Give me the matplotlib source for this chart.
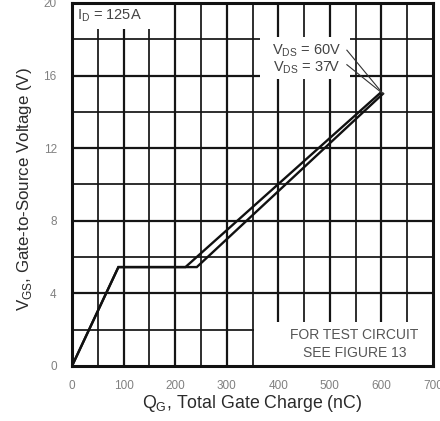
import matplotlib
matplotlib.use("Agg")
import matplotlib.pyplot as plt
from matplotlib.patches import Rectangle

plt.rcParams['font.family'] = ['Liberation Sans', 'DejaVu Sans']

# Gate charge curves (Q_G in nC, V_GS in V)
qg_37v = [0, 90, 220, 598]
vgs_37v = [0, 5.45, 5.45, 15.05]
qg_60v = [0, 90, 242, 603]
vgs_60v = [0, 5.45, 5.45, 15.0]

x_ticks = [0, 100, 200, 300, 400, 500, 600, 700]
y_ticks = [0, 4, 8, 12, 16, 20]

W, H = 440, 421
fig = plt.figure(figsize=(W / 100, H / 100), dpi=100)
ax = fig.add_axes([72 / W, 55 / H, 361 / W, 363 / H])
ax.set_xlim(0, 700)
ax.set_ylim(0, 20)

# grid: heavier lines every 100 nC / 4 V, lighter every 50 nC / 2 V
for x in range(50, 700, 50):
    ax.axvline(x, color='#151515', lw=1.6 if x % 100 == 0 else 1.25, zorder=1)
for y in range(2, 20, 2):
    ax.axhline(y, color='#151515', lw=1.6 if y % 4 == 0 else 1.25, zorder=1)

# white panels behind the annotations
for (x0, y0, w, h) in [(0, 18.55, 185, 1.45), (365, 15.8, 175, 2.3), (352, 0, 348, 2.4)]:
    ax.add_patch(Rectangle((x0, y0), w, h, facecolor='white', edgecolor='none', zorder=2))

# double-line curve
ax.plot(qg_37v, vgs_37v, color='#111111', lw=1.7, zorder=4, solid_joinstyle='miter')
ax.plot(qg_60v, vgs_60v, color='#111111', lw=1.7, zorder=4, solid_joinstyle='miter')

# annotations
ax.text(10, 19.3, r'I$_\mathregular{D}$ = 125A', fontsize=10.5, color='#444444', va='center', ha='left', zorder=5)
ax.text(455, 17.4, r'V$_\mathregular{DS}$ = 60V', fontsize=10.5, color='#444444', va='center', ha='center', zorder=5)
ax.text(455, 16.45, r'V$_\mathregular{DS}$ = 37V', fontsize=10.5, color='#444444', va='center', ha='center', zorder=5)
ax.plot([533, qg_60v[-1]], [17.4, vgs_60v[-1]], color='#333333', lw=0.8, zorder=4)
ax.plot([533, qg_60v[-1]], [16.6, vgs_60v[-1]], color='#333333', lw=0.8, zorder=4)
ax.text(548, 1.7, 'FOR TEST CIRCUIT', fontsize=10, color='#555555', ha='center', va='center', zorder=5)
ax.text(548, 0.7, 'SEE FIGURE 13', fontsize=10, color='#555555', ha='center', va='center', zorder=5)

ax.set_xticks(x_ticks)
ax.set_yticks(y_ticks)
ax.set_xticklabels([str(v) for v in x_ticks])
ax.set_yticklabels([str(v) for v in y_ticks])
ax.tick_params(axis='both', length=0, labelsize=8.5, labelcolor='#808080')
ax.tick_params(axis='x', pad=10)
ax.tick_params(axis='y', pad=11)
for s in ax.spines.values():
    s.set_linewidth(2.2)
    s.set_color('#111111')
    s.set_zorder(6)

# axis titles placed in figure pixels
fig.text(252 / W, 1 - 403 / H, r'Q$_\mathregular{G}$, Total Gate Charge (nC)',
         fontsize=12.8, color='#2a2a2a', ha='center', va='center')
fig.text(25 / W, 1 - 189 / H, r'V$_\mathregular{GS}$, Gate-to-Source Voltage (V)',
         fontsize=12.2, color='#2a2a2a', ha='center', va='center', rotation=90)

fig.savefig('out.png', dpi=100)
